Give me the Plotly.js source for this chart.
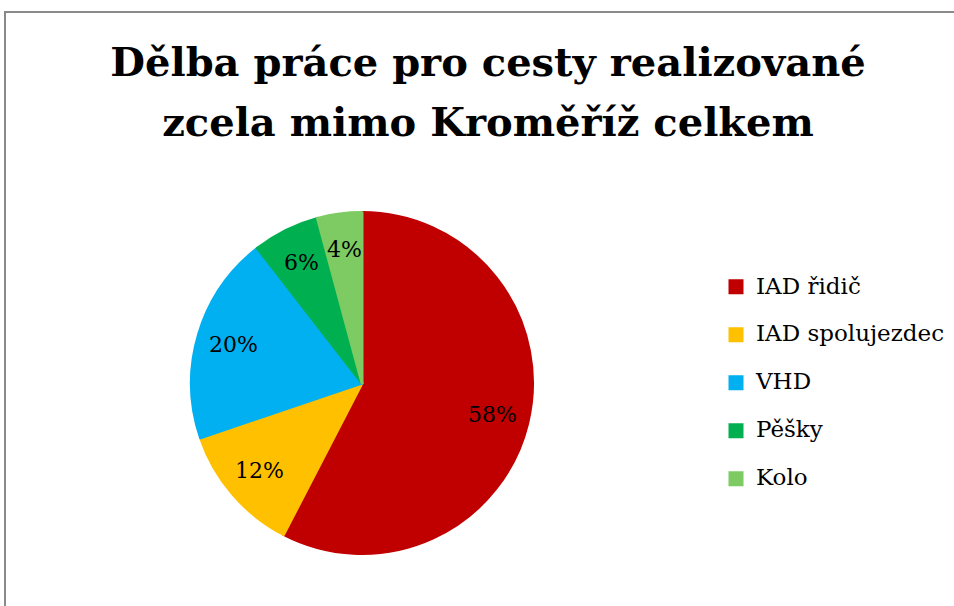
<!DOCTYPE html>
<html>
<head>
<meta charset="utf-8">
<script src="https://cdn.plot.ly/plotly-3.0.1.min.js"></script>
<style>
  html, body { margin: 0; padding: 0; background: #ffffff; overflow: hidden; }
  #frame { position: absolute; left: 4px; top: 11px; width: 1100px; height: 1000px;
           border-left: 2px solid #8A8A8A; border-top: 2px solid #8A8A8A; }
  #chart { position: absolute; left: 0; top: 0; width: 954px; height: 606px; }
</style>
</head>
<body>
<div id="frame"></div>
<div id="chart"></div>
<script>
const categories = ["IAD řidič", "IAD spolujezdec", "VHD", "Pěšky", "Kolo"];
const shares = [57.6, 12.2, 19.7, 6.3, 4.2];
const sliceColors = ["#C00000", "#FFC000", "#00B0F0", "#00B050", "#7DCB62"];
const titleLines = ["Dělba práce pro cesty realizované", "zcela mimo Kroměříž celkem"];

const W = 954, H = 606;
const serif = "DejaVu Serif, Liberation Serif, serif";

const domX = [191.5 / W, 532.5 / W];
const domY = [(H - 553.5) / H, (H - 212.5) / H];

const trace = {
  type: "pie",
  labels: categories.map(c => '<span style="font-size:23px">' + c + '</span><br>&nbsp;'),
  values: shares,
  sort: false,
  direction: "clockwise",
  rotation: 0,
  marker: { colors: sliceColors, line: { color: sliceColors, width: 3 } },
  textinfo: "none",
  hoverinfo: "skip",
  domain: { x: domX, y: domY }
};

// percentage labels placed along each slice's bisector (derived from the data)
const total = shares.reduce((a, b) => a + b, 0);
const cxPx = (domX[0] + domX[1]) / 2 * W;
const cyPx = H - (domY[0] + domY[1]) / 2 * H;
const Rpx = Math.min((domX[1] - domX[0]) * W, (domY[1] - domY[0]) * H) / 2;
let cum = 0;
const annotations = shares.map(v => {
  const mid = (cum + v / 2) / total * 2 * Math.PI;
  cum += v;
  const r = 0.79 * Rpx;
  return {
    xref: "paper", yref: "paper",
    x: (cxPx + r * Math.sin(mid)) / W,
    y: (H - (cyPx - r * Math.cos(mid))) / H,
    text: Math.round(v / total * 100) + "%",
    showarrow: false,
    xanchor: "center", yanchor: "middle",
    font: { family: serif, size: 22, color: "#000000" }
  };
});

const layout = {
  width: W, height: H,
  margin: { l: 0, r: 0, t: 0, b: 0 },
  paper_bgcolor: "rgba(0,0,0,0)",
  plot_bgcolor: "rgba(0,0,0,0)",
  title: {
    text: titleLines.map(t => '<span style="font-size:40px">' + t + '</span>').join("<br>"),
    font: { family: serif, size: 46, color: "#000000", weight: "bold" },
    x: 488 / W, xanchor: "center",
    y: 1 - 76 / H, yanchor: "top",
    xref: "paper", yref: "container"
  },
  showlegend: true,
  legend: {
    x: 716 / W, xanchor: "left",
    y: (H - 394) / H, yanchor: "middle",
    valign: "top",
    font: { family: serif, size: 17.3, color: "#000000" },
    bgcolor: "rgba(0,0,0,0)",
    borderwidth: 0,
    itemclick: false, itemdoubleclick: false
  },
  annotations: annotations
};

Plotly.newPlot("chart", [trace], layout, { staticPlot: true, displayModeBar: false });
</script>
</body>
</html>
